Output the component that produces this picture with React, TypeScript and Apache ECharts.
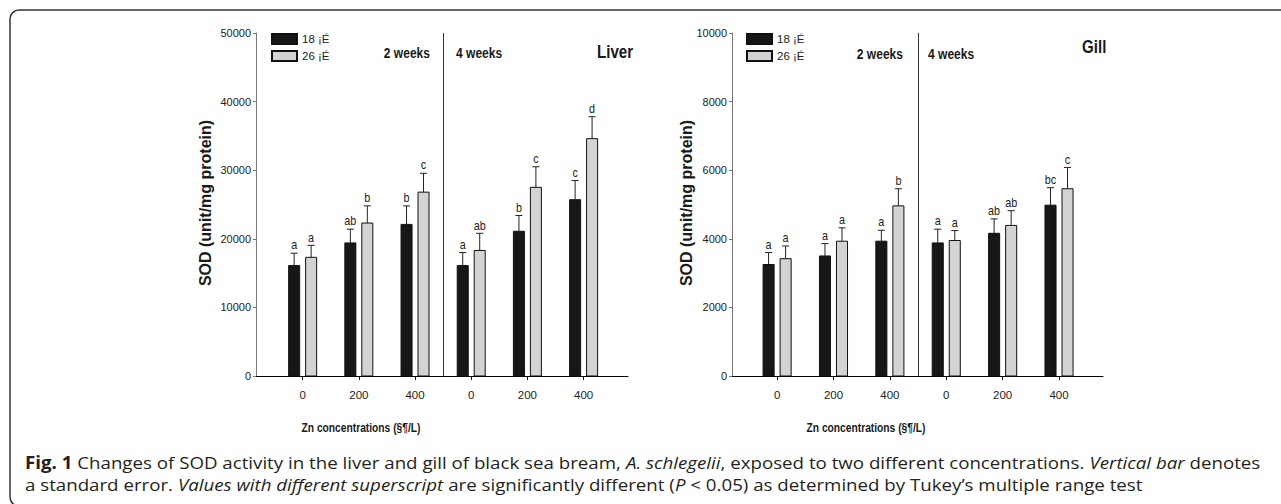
import React, { useEffect, useRef } from "react";
import * as echarts from "echarts";

// ---- data ----
const positions = [1, 2, 3, 4, 5, 6];
const znLabels = ["0", "200", "400", "0", "200", "400"];
const seriesNames = ["18 ¡É", "26 ¡É"];

const liver18 = [16100, 19400, 22100, 16100, 21100, 25700];
const liver18Se = [1800, 2000, 2700, 1900, 2300, 2800];
const liver18Letters = ["a", "ab", "b", "a", "b", "c"];
const liver26 = [17300, 22300, 26800, 18300, 27500, 34600];
const liver26Se = [1750, 2500, 2750, 2500, 3000, 3200];
const liver26Letters = ["a", "b", "c", "ab", "c", "d"];

const gill18 = [3250, 3500, 3930, 3880, 4160, 4980];
const gill18Se = [350, 360, 320, 400, 420, 510];
const gill18Letters = ["a", "a", "a", "a", "ab", "bc"];
const gill26 = [3420, 3930, 4960, 3950, 4390, 5460];
const gill26Se = [370, 390, 500, 290, 430, 620];
const gill26Letters = ["a", "a", "b", "a", "ab", "c"];

const liverTicks = [0, 10000, 20000, 30000, 40000, 50000];
const gillTicks = [0, 2000, 4000, 6000, 8000, 10000];

const SANS = "'Liberation Sans', Arial, sans-serif";
const CAPTION = "'Open Sans', 'Noto Sans', sans-serif";

const BLACK = "#171717";
const GRAY = "#d3d3d3";

function makeRender(side: number, fill: string, letters: string[]) {
  return (params: any, api: any) => {
    const pos = api.value(0);
    const v = api.value(1);
    const se = api.value(2);
    const idx = api.value(3);
    const unit = api.size([1, 0])[0];
    const bw = unit * 0.196;
    const off = side * unit * 0.151;
    const base = api.coord([pos, 0]);
    const top = api.coord([pos, v]);
    const et = api.coord([pos, v + se]);
    const cx = base[0] + off;
    const cap = unit * 0.063;
    return {
      type: "group",
      children: [
        {
          type: "rect",
          shape: { x: cx - bw / 2, y: top[1], width: bw, height: base[1] - top[1] },
          style: { fill, stroke: "#111", lineWidth: 1 },
        },
        {
          type: "line",
          shape: { x1: cx, y1: top[1], x2: cx, y2: et[1] },
          style: { stroke: "#222", lineWidth: 1 },
        },
        {
          type: "line",
          shape: { x1: cx - cap, y1: et[1], x2: cx + cap, y2: et[1] },
          style: { stroke: "#222", lineWidth: 1 },
        },
        {
          type: "text",
          x: cx,
          y: et[1] - 2,
          scaleX: 0.9,
          style: {
            text: letters[idx],
            fill: "#222",
            fontFamily: SANS,
            fontSize: 12,
            align: "center",
            verticalAlign: "bottom",
          },
        },
      ],
    };
  };
}

function barSeries(
  name: string,
  axis: number,
  vals: number[],
  se: number[],
  letters: string[],
  side: number,
  fill: string,
  withSep: boolean
) {
  const s: any = {
    type: "custom",
    name,
    xAxisIndex: axis,
    yAxisIndex: axis,
    clip: false,
    itemStyle: { color: fill, borderColor: "#111", borderWidth: 1 },
    encode: { x: 0, y: 1 },
    data: positions.map((p, i) => [p, vals[i], se[i], i]),
    renderItem: makeRender(side, fill, letters),
  };
  if (withSep) {
    s.markLine = {
      silent: true,
      symbol: ["none", "none"],
      label: { show: false },
      lineStyle: { color: "#333", width: 1, type: "solid" },
      data: [{ xAxis: 3.5 }],
    };
  }
  return s;
}

function xAxisDef(grid: number, min: number, max: number) {
  return {
    type: "value",
    gridIndex: grid,
    min,
    max,
    axisLine: { show: true, lineStyle: { color: "#000", width: 1 } },
    axisTick: {
      show: true,
      customValues: positions,
      length: 4,
      lineStyle: { color: "#000" },
    },
    axisLabel: {
      show: true,
      customValues: positions,
      formatter: (v: number) => znLabels[Math.round(v) - 1] ?? "",
      margin: 13,
      fontFamily: SANS,
      fontSize: 11.5,
      color: "#222",
    },
    splitLine: { show: false },
  };
}

function yAxisDef(grid: number, ticks: number[]) {
  return {
    type: "value",
    gridIndex: grid,
    min: ticks[0],
    max: ticks[ticks.length - 1],
    interval: ticks[1] - ticks[0],
    axisLine: { show: true, lineStyle: { color: "#777", width: 1 } },
    axisTick: { show: true, length: 3, lineStyle: { color: "#777" } },
    axisLabel: {
      margin: 5,
      fontFamily: SANS,
      fontSize: 11,
      color: "#222",
      formatter: (v: number) => String(v),
    },
    splitLine: { show: false },
  };
}

function legendDef(left: number) {
  return {
    data: seriesNames,
    orient: "vertical",
    left,
    top: 33,
    padding: 0,
    itemWidth: 25,
    itemHeight: 10,
    itemGap: 5,
    icon: "rect",
    selectedMode: false,
    textStyle: { fontFamily: SANS, fontSize: 11.5, color: "#222", lineHeight: 12 },
  };
}

function txt(
  x: number,
  y: number,
  text: string,
  opts: any = {},
  rotation = 0,
  scaleX = 1
) {
  return {
    type: "text",
    x,
    y,
    rotation,
    scaleX,
    style: {
      text,
      fill: "#1a1a1a",
      fontFamily: SANS,
      fontSize: 14,
      fontWeight: "bold",
      align: "left",
      verticalAlign: "middle",
      ...opts,
    },
  };
}

const captionRich = {
  b: { fontFamily: CAPTION, fontSize: 17, fontWeight: "bold", fill: "#231f20" },
  i: { fontFamily: CAPTION, fontSize: 17, fontStyle: "italic", fill: "#231f20" },
};

function captionLine(y: number, text: string) {
  return {
    type: "text",
    x: 25,
    y,
    scaleX: 1.1,
    style: {
      text,
      rich: captionRich,
      fontFamily: CAPTION,
      fontSize: 17,
      fill: "#231f20",
      align: "left",
      verticalAlign: "middle",
    },
  };
}

export default function App() {
  const ref = useRef<HTMLDivElement>(null);

  useEffect(() => {
    document.body.style.margin = "0";
    if (!ref.current) return;
    const chart = echarts.init(ref.current, null, { renderer: "svg" });
    const option: any = {
      animation: false,
      backgroundColor: "#ffffff",
      grid: [
        { left: 256, top: 33, width: 372, height: 343 },
        { left: 732, top: 33, width: 371, height: 343 },
      ],
      xAxis: [xAxisDef(0, 0.17, 6.79), xAxisDef(1, 0.2, 6.78)],
      yAxis: [yAxisDef(0, liverTicks), yAxisDef(1, gillTicks)],
      legend: [legendDef(271), legendDef(746)],
      series: [
        barSeries(seriesNames[0], 0, liver18, liver18Se, liver18Letters, -1, BLACK, true),
        barSeries(seriesNames[1], 0, liver26, liver26Se, liver26Letters, 1, GRAY, false),
        barSeries(seriesNames[0], 1, gill18, gill18Se, gill18Letters, -1, BLACK, true),
        barSeries(seriesNames[1], 1, gill26, gill26Se, gill26Letters, 1, GRAY, false),
      ],
      graphic: [
        {
          type: "rect",
          x: 10,
          y: 10,
          shape: { x: 0, y: 0, width: 1300, height: 496, r: 9 },
          style: { fill: "none", stroke: "#333", lineWidth: 1.5 },
          silent: true,
        },
        // panel headers
        txt(430, 53, "2 weeks", { align: "right" }, 0, 0.86),
        txt(456, 53, "4 weeks", {}, 0, 0.86),
        txt(597, 52, "Liver", { fontSize: 18 }, 0, 0.84),
        txt(903, 54, "2 weeks", { align: "right" }, 0, 0.86),
        txt(928, 54, "4 weeks", {}, 0, 0.86),
        txt(1082, 47, "Gill", { fontSize: 18 }, 0, 0.84),
        // axis titles
        txt(205, 203, "SOD (unit/mg protein)", { fontSize: 16, align: "center" }, Math.PI / 2),
        txt(686, 203, "SOD (unit/mg protein)", { fontSize: 16, align: "center" }, Math.PI / 2),
        txt(361, 427, "Zn concentrations (§¶/L)", { fontSize: 13.5, align: "center" }, 0, 0.76),
        txt(866, 427, "Zn concentrations (§¶/L)", { fontSize: 13.5, align: "center" }, 0, 0.76),
        // caption
        captionLine(
          462,
          "{b|Fig. 1} Changes of SOD activity in the liver and gill of black sea bream, {i|A. schlegelii}, exposed to two different concentrations. {i|Vertical bar} denotes"
        ),
        captionLine(
          484,
          "a standard error. {i|Values with different superscript} are significantly different ({i|P} < 0.05) as determined by Tukey’s multiple range test"
        ),
      ],
    };
    chart.setOption(option);
    return () => chart.dispose();
  }, []);

  return (
    <div
      ref={ref}
      style={{ position: "absolute", left: 0, top: 0, width: "1281px", height: "504px" }}
    />
  );
}
